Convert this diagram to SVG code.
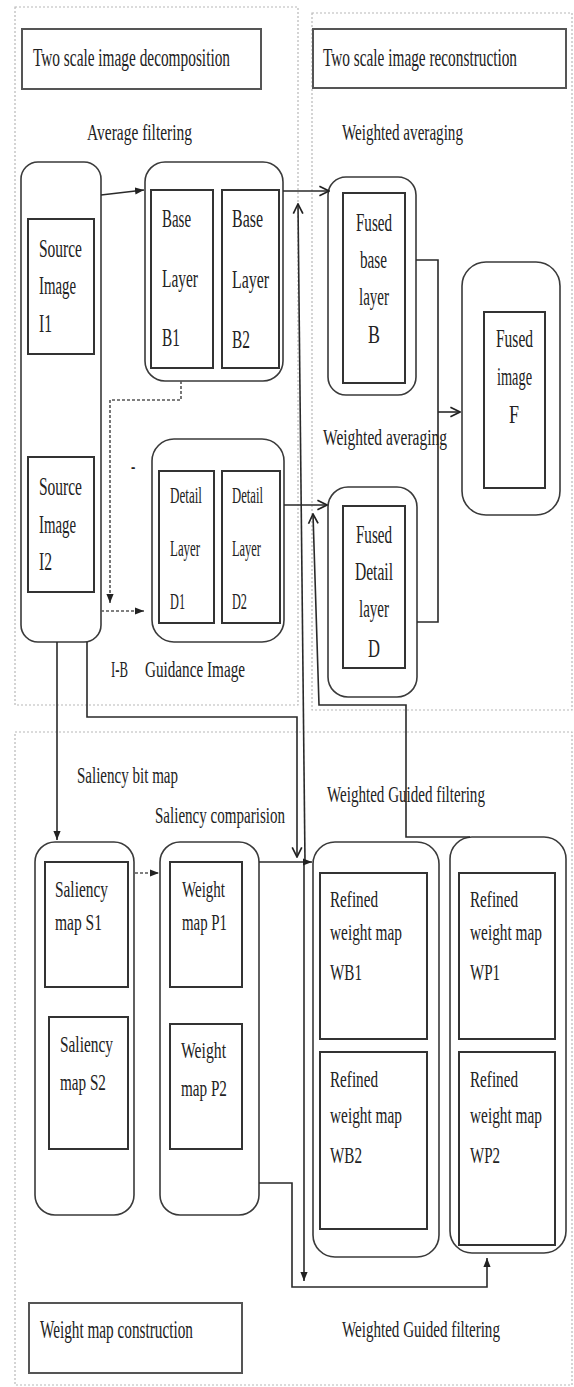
<svg xmlns="http://www.w3.org/2000/svg" width="574" height="1387" viewBox="0 0 574 1387">
<style>
.panel{fill:none;stroke:#b8b8b8;stroke-width:1.2;stroke-dasharray:2,2}
.title{fill:#fff;stroke:#555;stroke-width:2}
.outer{fill:none;stroke:#3a3a3a;stroke-width:1.6}
.inner{fill:none;stroke:#333;stroke-width:2}
.ln{fill:none;stroke:#2a2a2a;stroke-width:1.6}
.dash{fill:none;stroke:#555;stroke-width:1.6;stroke-dasharray:3,2}
text{font-family:"Liberation Serif","Times New Roman",serif;fill:#222}
.t{font-size:26px}
.l{font-size:23px}
.b{font-size:26px}
.s{font-size:24px}
</style>
<defs>
<marker id="af" viewBox="0 0 10 10" refX="10" refY="5" markerWidth="9" markerHeight="9" orient="auto" markerUnits="userSpaceOnUse"><path d="M0,1 L10,5 L0,9 z" fill="#222"/></marker>
<marker id="ao" viewBox="0 0 10 10" refX="9" refY="5" markerWidth="12" markerHeight="14" orient="auto" markerUnits="userSpaceOnUse"><path d="M1,1 L9,5 L1,9" fill="none" stroke="#222" stroke-width="1.4"/></marker>
</defs>
<rect width="574" height="1387" fill="#fff"/>

<g id="panels">
<rect class="panel" x="15" y="7" width="283" height="698"/>
<rect class="panel" x="312" y="13" width="260" height="697"/>
<rect class="panel" x="15" y="732" width="557" height="653"/>
</g>

<g id="title-decomp">
<rect class="title" x="22" y="29" width="239" height="60"/>
<g transform="scale(0.56,1)"><text class="t" x="58.9" y="66" textLength="351.8" lengthAdjust="spacingAndGlyphs">Two scale image decomposition</text></g>
</g>
<g id="title-recon">
<rect class="title" x="313" y="29" width="253" height="59"/>
<g transform="scale(0.56,1)"><text class="t" x="576.8" y="66" textLength="346.4" lengthAdjust="spacingAndGlyphs">Two scale image reconstruction</text></g>
</g>
<g id="title-weight">
<rect class="title" x="29" y="1303" width="213" height="70"/>
<g transform="scale(0.56,1)"><text class="t" x="71.4" y="1338" textLength="273.2" lengthAdjust="spacingAndGlyphs">Weight map construction</text></g>
</g>

<g id="labels" transform="scale(0.56,1)">
<text class="l" x="155.4" y="140" textLength="187.5" lengthAdjust="spacingAndGlyphs">Average filtering</text>
<text class="l" x="610.7" y="140" textLength="216.1" lengthAdjust="spacingAndGlyphs">Weighted averaging</text>
<text class="l" x="576.8" y="445" textLength="221.4" lengthAdjust="spacingAndGlyphs">Weighted averaging</text>
<text class="l" x="233.9" y="474">-</text>
<text class="l" x="198.2" y="677" textLength="30.4" lengthAdjust="spacingAndGlyphs">I-B</text>
<text class="l" x="258.9" y="677" textLength="178.6" lengthAdjust="spacingAndGlyphs">Guidance Image</text>
<text class="l" x="137.5" y="783" textLength="180.4" lengthAdjust="spacingAndGlyphs">Saliency bit map</text>
<text class="l" x="276.8" y="823" textLength="232.1" lengthAdjust="spacingAndGlyphs">Saliency comparision</text>
<text class="l" x="583.9" y="802" textLength="282.1" lengthAdjust="spacingAndGlyphs">Weighted Guided filtering</text>
<text class="l" x="610.7" y="1337" textLength="282.1" lengthAdjust="spacingAndGlyphs">Weighted Guided filtering</text>
</g>

<g id="source">
<rect class="outer" x="21" y="162" width="80" height="480" rx="17"/>
<rect class="inner" x="28" y="219" width="66" height="135"/>
<rect class="inner" x="28" y="457" width="66" height="135"/>
<g transform="scale(0.56,1)">
<text class="b" x="69.6" y="257" textLength="76.8" lengthAdjust="spacingAndGlyphs">Source</text>
<text class="b" x="69.6" y="294" textLength="66.1" lengthAdjust="spacingAndGlyphs">Image</text>
<text class="b" x="69.6" y="332" textLength="23.2" lengthAdjust="spacingAndGlyphs">I1</text>
<text class="b" x="69.6" y="495" textLength="76.8" lengthAdjust="spacingAndGlyphs">Source</text>
<text class="b" x="69.6" y="533" textLength="66.1" lengthAdjust="spacingAndGlyphs">Image</text>
<text class="b" x="69.6" y="570" textLength="23.2" lengthAdjust="spacingAndGlyphs">I2</text>
</g>
</g>

<g id="base">
<rect class="outer" x="145" y="162" width="138" height="219" rx="20"/>
<rect class="inner" x="151" y="190" width="62" height="178"/>
<rect class="inner" x="222" y="190" width="57" height="178"/>
<g transform="scale(0.56,1)">
<text class="b" x="289.3" y="227" textLength="51.8" lengthAdjust="spacingAndGlyphs">Base</text>
<text class="b" x="289.3" y="287" textLength="64.3" lengthAdjust="spacingAndGlyphs">Layer</text>
<text class="b" x="289.3" y="346" textLength="32.1" lengthAdjust="spacingAndGlyphs">B1</text>
<text class="b" x="414.3" y="227" textLength="55.4" lengthAdjust="spacingAndGlyphs">Base</text>
<text class="b" x="414.3" y="288" textLength="66.1" lengthAdjust="spacingAndGlyphs">Layer</text>
<text class="b" x="414.3" y="348" textLength="32.1" lengthAdjust="spacingAndGlyphs">B2</text>
</g>
</g>

<g id="detail">
<rect class="outer" x="152" y="439" width="132" height="203" rx="22"/>
<rect class="inner" x="159" y="471" width="55" height="152"/>
<rect class="inner" x="222" y="471" width="58" height="152"/>
<g transform="scale(0.56,1)">
<text class="s" x="303.6" y="503" textLength="57.1" lengthAdjust="spacingAndGlyphs">Detail</text>
<text class="s" x="303.6" y="556" textLength="53.6" lengthAdjust="spacingAndGlyphs">Layer</text>
<text class="s" x="303.6" y="609" textLength="26.8" lengthAdjust="spacingAndGlyphs">D1</text>
<text class="s" x="414.3" y="503" textLength="55.4" lengthAdjust="spacingAndGlyphs">Detail</text>
<text class="s" x="414.3" y="556" textLength="51.8" lengthAdjust="spacingAndGlyphs">Layer</text>
<text class="s" x="414.3" y="609" textLength="26.8" lengthAdjust="spacingAndGlyphs">D2</text>
</g>
</g>

<g id="fused-base">
<rect class="outer" x="328" y="177" width="88" height="218" rx="18"/>
<rect class="inner" x="343" y="193" width="62" height="190"/>
<g transform="scale(0.56,1)">
<text class="b" x="635.7" y="231" textLength="64.3" lengthAdjust="spacingAndGlyphs">Fused</text>
<text class="b" x="642.9" y="268" textLength="48.2" lengthAdjust="spacingAndGlyphs">base</text>
<text class="b" x="641.1" y="305" textLength="53.6" lengthAdjust="spacingAndGlyphs">layer</text>
<text class="b" x="657.1" y="343" textLength="21.4" lengthAdjust="spacingAndGlyphs">B</text>
</g>
</g>

<g id="fused-detail">
<rect class="outer" x="328" y="487" width="89" height="210" rx="20"/>
<rect class="inner" x="343" y="506" width="62" height="162"/>
<g transform="scale(0.56,1)">
<text class="b" x="635.7" y="543" textLength="64.3" lengthAdjust="spacingAndGlyphs">Fused</text>
<text class="b" x="633.9" y="580" textLength="67.9" lengthAdjust="spacingAndGlyphs">Detail</text>
<text class="b" x="641.1" y="617" textLength="53.6" lengthAdjust="spacingAndGlyphs">layer</text>
<text class="b" x="657.1" y="657" textLength="21.4" lengthAdjust="spacingAndGlyphs">D</text>
</g>
</g>

<g id="fused-image">
<rect class="outer" x="462" y="262" width="98" height="253" rx="24"/>
<rect class="inner" x="484" y="312" width="61" height="176"/>
<g transform="scale(0.56,1)">
<text class="b" x="885.7" y="347" textLength="66.1" lengthAdjust="spacingAndGlyphs">Fused</text>
<text class="b" x="887.5" y="385" textLength="62.5" lengthAdjust="spacingAndGlyphs">image</text>
<text class="b" x="908.9" y="423" textLength="17.9" lengthAdjust="spacingAndGlyphs">F</text>
</g>
</g>

<g id="saliency">
<rect class="outer" x="35" y="842" width="99" height="373" rx="20"/>
<rect class="inner" x="45" y="862" width="83" height="125"/>
<rect class="inner" x="49" y="1017" width="79" height="132"/>
<g transform="scale(0.56,1)">
<text class="s" x="98.2" y="897" textLength="94.6" lengthAdjust="spacingAndGlyphs">Saliency</text>
<text class="s" x="98.2" y="930" textLength="83.9" lengthAdjust="spacingAndGlyphs">map S1</text>
<text class="s" x="107.1" y="1052" textLength="94.6" lengthAdjust="spacingAndGlyphs">Saliency</text>
<text class="s" x="107.1" y="1090" textLength="82.1" lengthAdjust="spacingAndGlyphs">map S2</text>
</g>
</g>

<g id="weight">
<rect class="outer" x="160" y="842" width="99" height="373" rx="20"/>
<rect class="inner" x="170" y="862" width="72" height="125"/>
<rect class="inner" x="170" y="1024" width="72" height="125"/>
<g transform="scale(0.56,1)">
<text class="s" x="325" y="897" textLength="76.8" lengthAdjust="spacingAndGlyphs">Weight</text>
<text class="s" x="325" y="930" textLength="80.4" lengthAdjust="spacingAndGlyphs">map P1</text>
<text class="s" x="323.2" y="1058" textLength="80.4" lengthAdjust="spacingAndGlyphs">Weight</text>
<text class="s" x="323.2" y="1096" textLength="82.1" lengthAdjust="spacingAndGlyphs">map P2</text>
</g>
</g>

<g id="refined-wb">
<rect class="outer" x="313" y="842" width="126" height="415" rx="22"/>
<rect class="inner" x="320" y="873" width="107" height="166"/>
<rect class="inner" x="320" y="1052" width="107" height="177"/>
<g transform="scale(0.56,1)">
<text class="s" x="589.3" y="907" textLength="85.7" lengthAdjust="spacingAndGlyphs">Refined</text>
<text class="s" x="589.3" y="940" textLength="128.6" lengthAdjust="spacingAndGlyphs">weight map</text>
<text class="s" x="589.3" y="980" textLength="57.1" lengthAdjust="spacingAndGlyphs">WB1</text>
<text class="s" x="589.3" y="1087" textLength="85.7" lengthAdjust="spacingAndGlyphs">Refined</text>
<text class="s" x="589.3" y="1123" textLength="128.6" lengthAdjust="spacingAndGlyphs">weight map</text>
<text class="s" x="589.3" y="1163" textLength="57.1" lengthAdjust="spacingAndGlyphs">WB2</text>
</g>
</g>

<g id="refined-wp">
<rect class="outer" x="450" y="837" width="116" height="416" rx="22"/>
<rect class="inner" x="459" y="873" width="96" height="166"/>
<rect class="inner" x="459" y="1052" width="96" height="193"/>
<g transform="scale(0.56,1)">
<text class="s" x="839.3" y="907" textLength="85.7" lengthAdjust="spacingAndGlyphs">Refined</text>
<text class="s" x="839.3" y="940" textLength="128.6" lengthAdjust="spacingAndGlyphs">weight map</text>
<text class="s" x="839.3" y="980" textLength="53.6" lengthAdjust="spacingAndGlyphs">WP1</text>
<text class="s" x="839.3" y="1087" textLength="85.7" lengthAdjust="spacingAndGlyphs">Refined</text>
<text class="s" x="839.3" y="1123" textLength="128.6" lengthAdjust="spacingAndGlyphs">weight map</text>
<text class="s" x="839.3" y="1163" textLength="53.6" lengthAdjust="spacingAndGlyphs">WP2</text>
</g>
</g>

<g id="connectors">
<path class="ln" d="M101,195 L144,190" marker-end="url(#af)"/>
<path class="ln" d="M283,191 H329" marker-end="url(#ao)"/>
<path class="dash" d="M181,381 V400 H110 V603" marker-end="url(#af)"/>
<path class="dash" d="M101,611 H144" marker-end="url(#af)"/>
<path class="ln" d="M284,505 H327" marker-end="url(#ao)"/>
<path class="ln" d="M416,260 H438 V622 H417"/>
<path class="ln" d="M438,412 H460" marker-end="url(#ao)"/>
<path class="ln" d="M57,642 V840" marker-end="url(#af)"/>
<path class="ln" d="M87,642 V717 H297 V857" marker-end="url(#ao)"/>
<path class="ln" d="M305,862 L298,204" marker-end="url(#ao)"/>
<path class="ln" d="M304,862 V1281" marker-end="url(#af)"/>
<path class="dash" d="M135,873 H159" marker-end="url(#af)"/>
<path class="ln" d="M259,862 H312" marker-end="url(#af)"/>
<path class="ln" d="M259,1183 H292 V1287 H487 V1258" marker-end="url(#af)"/>
<path class="ln" d="M470,837 H406 V705 H319 L313,514" marker-end="url(#ao)"/>
</g>
</svg>
